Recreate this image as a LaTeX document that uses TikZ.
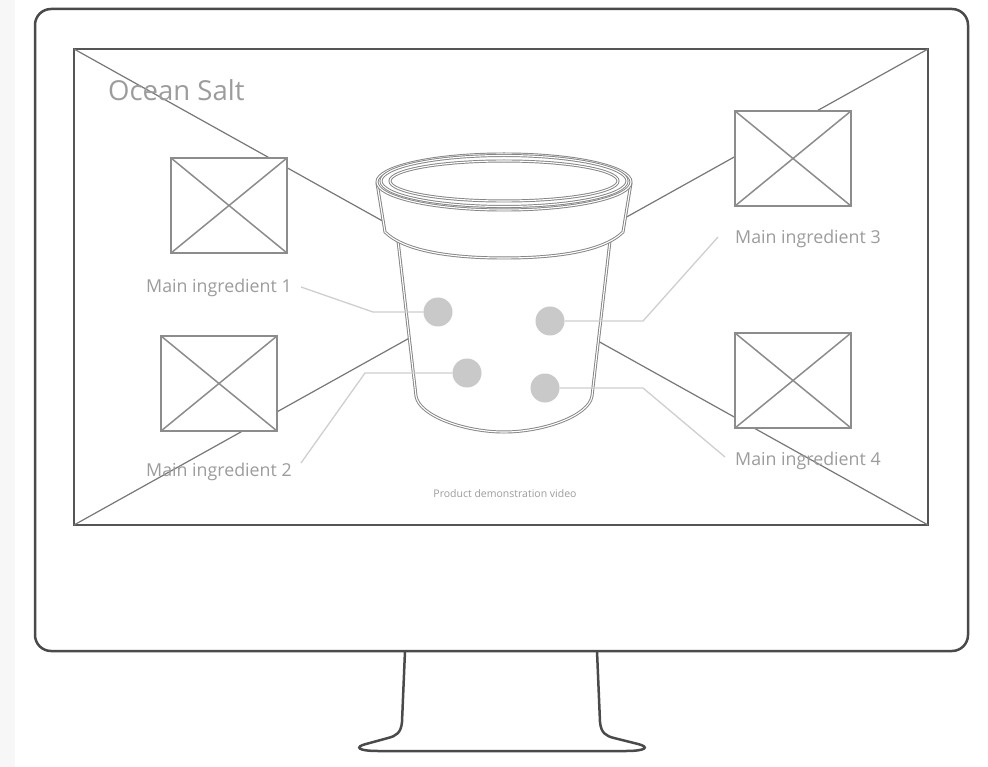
\documentclass[tikz,border=0pt]{standalone}
\usepackage{fontspec}
\setmainfont{Open Sans}
\usetikzlibrary{calc}
\definecolor{framegray}{HTML}{4A4A4A}
\definecolor{screengray}{HTML}{555555}
\definecolor{diaggray}{HTML}{777777}
\definecolor{boxgray}{HTML}{8C8C8C}
\definecolor{cupgray}{HTML}{858585}
\definecolor{leadgray}{HTML}{CFCFCF}
\definecolor{dotgray}{HTML}{C9C9C9}
\definecolor{textgray}{HTML}{9C9C9C}
\definecolor{stripgray}{HTML}{F7F7F7}
\begin{document}
\begin{tikzpicture}[x=1pt,y=-1pt,
  framestyle/.style={draw=framegray, line width=2.5pt},
  monitor/.style={framestyle, fill=white, rounded corners=16pt, minimum width=933pt, minimum height=642pt, outer sep=0pt, inner sep=0pt},
  screen/.style={draw=screengray, line width=2.6pt, minimum width=854pt, minimum height=476pt, outer sep=0pt, inner sep=0pt},
  diag/.style={draw=diaggray, line width=1.2pt},
  imgbox/.style={draw=boxgray, fill=white, line width=1.7pt, minimum width=116pt, minimum height=95pt, outer sep=0pt, inner sep=0pt},
  imgline/.style={draw=boxgray, line width=1.5pt},
  cupline/.style={draw=cupgray, line width=0.95pt, double=white, double distance=1.1pt},
  dot/.style={circle, fill=dotgray, minimum size=29pt, inner sep=0pt, outer sep=0pt},
  leader/.style={draw=leadgray, line width=1.3pt},
  label/.style={text=textgray, font=\fontsize{17.8}{21}\selectfont, inner sep=0pt, anchor=base west},
  title/.style={text=textgray, font=\fontsize{27.5}{32}\selectfont, inner sep=0pt, anchor=base west},
  caption/.style={text=textgray, font=\fontsize{10.5}{13}\selectfont, inner sep=0pt, anchor=base}
]
\useasboundingbox (0,0) rectangle (988,767);
\fill[stripgray] (0,0) rectangle (15,767);

% stand
\draw[framestyle, fill=white] (405,651) -- (402,722)
  .. controls (401,733) and (396,736) .. (388,738) -- (366,744)
  .. controls (354,747) and (358,751) .. (378,751) -- (626,751)
  .. controls (646,751) and (650,747) .. (638,744) -- (614,738)
  .. controls (606,736) and (601,733) .. (600,722) -- (597,651);

% monitor and screen
\node[monitor] (mon) at (501.5,330) {};
\node[screen] (scr) at (501,287) {};
\draw[diag] (scr.north west) -- (scr.south east);
\draw[diag] (scr.north east) -- (scr.south west);

% image placeholders
\node[imgbox] (b1) at (229,205.5) {};
\node[imgbox] (b2) at (219,383.5) {};
\node[imgbox] (b3) at (793,158.5) {};
\node[imgbox] (b4) at (793,380.5) {};
\foreach \b in {b1,b2,b3,b4}
  \draw[imgline] (\b.north west) -- (\b.south east) (\b.north east) -- (\b.south west);

% cup body
\filldraw[cupline, fill=white] (397,232) -- (416,396)
  .. controls (419,416) and (465,432) .. (504,432)
  .. controls (543,432) and (589,416) .. (592,396) -- (611,232);
% cup band
\filldraw[cupline, fill=white] (377,183) -- (385,232)
  .. controls (405,252) and (455,258) .. (504,258)
  .. controls (553,258) and (603,252) .. (623,232) -- (631,183);
% cup rim
\filldraw[cupline, fill=white] (504,182) ellipse [x radius=127, y radius=28];
\draw[cupline] (504,181) ellipse [x radius=123, y radius=25.5];
\draw[cupline] (504,181) ellipse [x radius=114, y radius=20];

% texts
\node[title] (ttl) at (108,101) {Ocean Salt};
\node[label] (l1) at (146,293) {Main ingredient 1};
\node[label] (l2) at (146,476) {Main ingredient 2};
\node[label] (l3) at (735,244) {Main ingredient 3};
\node[label] (l4) at (735,465) {Main ingredient 4};
\node[caption] (cap) at (505,497) {Product demonstration video};

% ingredient markers
\node[dot] (d1) at (438,312) {};
\node[dot] (d2) at (467,373) {};
\node[dot] (d3) at (550,321) {};
\node[dot] (d4) at (545,388) {};

% leader lines
\coordinate (e1) at (301,287);
\coordinate (e2) at (301,463);
\coordinate (e3) at (718,237);
\coordinate (e4) at (725,457);
\draw[leader] (e1) -- (373,312) -- (d1.west);
\draw[leader] (e2) -- (365,373) -- (d2.west);
\draw[leader] (e3) -- (643,321) -- (d3.east);
\draw[leader] (e4) -- (643,388) -- (d4.east);
\end{tikzpicture}
\end{document}
